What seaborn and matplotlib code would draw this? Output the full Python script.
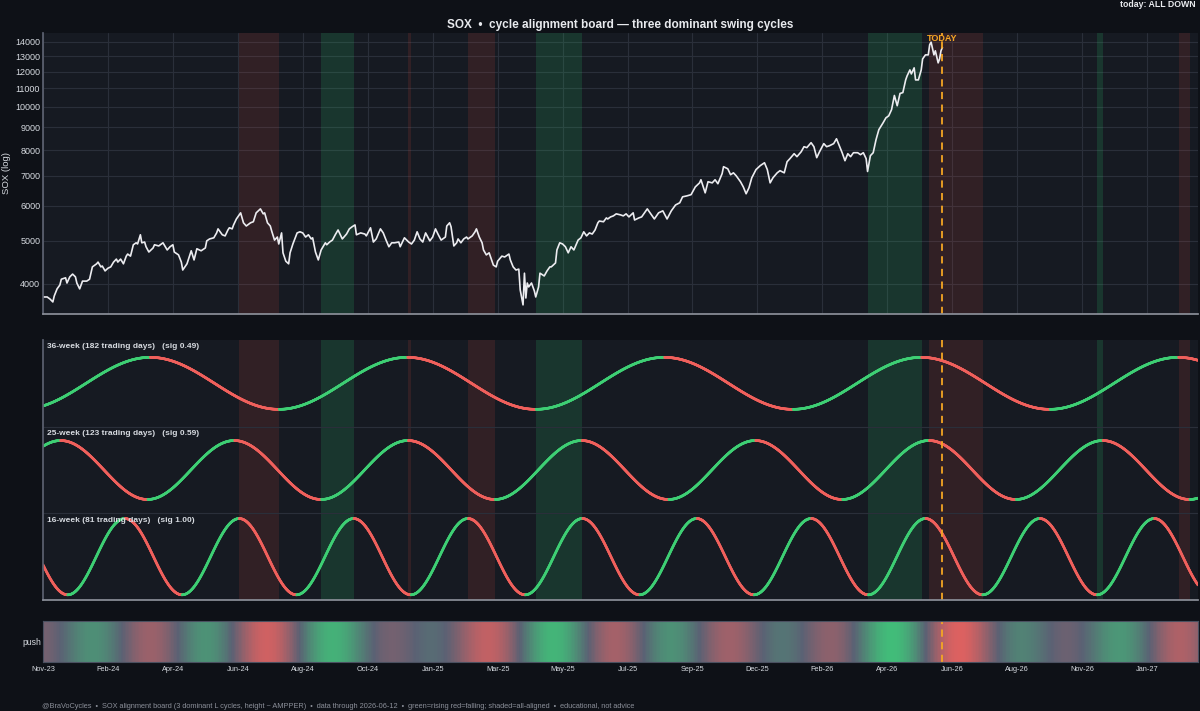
import numpy as np
import matplotlib
matplotlib.use('Agg')
import matplotlib.pyplot as plt
import seaborn as sns
from matplotlib.collections import LineCollection
from matplotlib.colors import LinearSegmentedColormap
from matplotlib.ticker import FixedLocator, NullFormatter

# x axis = trading-day index; today is day 637, projection runs to 818
n_days = 818
today = 637
tick_step = 46
tick_labels = ['Nov-23', 'Feb-24', 'Apr-24', 'Jun-24', 'Aug-24', 'Oct-24', 'Jan-25', 'Mar-25', 'May-25',
               'Jul-25', 'Sep-25', 'Dec-25', 'Feb-26', 'Apr-26', 'Jun-26', 'Aug-26', 'Nov-26', 'Jan-27']

# SOX close
day = [0, 3, 5, 7, 8, 10, 12, 13, 16, 17, 19, 21, 23, 24, 26, 28, 31, 33, 35, 38, 39, 41, 42, 44, 46,
       48, 50, 52, 53, 55, 57, 59, 60, 62, 64, 66, 67, 69, 70, 72, 73, 75, 78, 79, 82, 85, 88, 90, 92, 93,
       96, 98, 99, 102, 105, 107, 109, 112, 115, 116, 118, 121, 123, 124, 127, 129, 131, 132, 134, 135,
       137, 140, 142, 144, 147, 149, 151, 154, 156, 157, 159, 161, 162, 164, 166, 167, 169, 170, 172, 174,
       175, 177, 180, 182, 184, 186, 188, 190, 191, 193, 195, 197, 200, 201, 203, 205, 207, 209, 212, 215,
       217, 219, 221, 222, 225, 228, 229, 232, 234, 236, 239, 241, 243, 245, 247, 249, 252, 253, 256, 259,
       261, 263, 265, 267, 269, 271, 274, 276, 278, 280, 282, 285, 286, 288, 289, 291, 293, 294, 296, 298,
       300, 301, 304, 306, 307, 309, 311, 312, 314, 316, 318, 319, 321, 322, 325, 327, 330, 331, 333, 335,
       337, 338, 340, 341, 342, 343, 344, 346, 348, 349, 351, 352, 355, 357, 359, 360, 363, 364, 366, 368,
       370, 372, 374, 376, 377, 379, 381, 383, 385, 387, 389, 391, 393, 394, 397, 399, 400, 402, 404, 406,
       409, 411, 413, 415, 418, 419, 422, 424, 428, 430, 433, 436, 439, 442, 445, 448, 451, 453, 456, 459,
       462, 465, 466, 469, 471, 474, 476, 478, 481, 482, 485, 487, 489, 491, 494, 496, 498, 500, 502, 505,
       508, 511, 513, 515, 517, 520, 522, 525, 527, 529, 532, 534, 537, 539, 541, 544, 546, 548, 550, 553,
       555, 557, 560, 562, 564, 566, 568, 570, 572, 574, 577, 579, 581, 583, 584, 586, 588, 590, 592, 595,
       597, 599, 601, 603, 605, 607, 609, 611, 612, 614, 615, 617, 618, 620, 622, 623, 625, 627, 628, 629,
       631, 632, 634, 635, 636, 637]
sox = [3740, 3740, 3700, 3645, 3760, 3900, 3980, 4100, 4130, 4020, 4150, 4210, 4150, 4020, 3900, 4060,
       4060, 4100, 4370, 4440, 4480, 4370, 4390, 4280, 4340, 4370, 4480, 4550, 4480, 4550, 4440, 4620,
       4670, 4620, 4900, 4950, 4920, 5160, 4950, 4970, 4850, 4720, 4820, 4900, 4870, 4950, 4770, 4850,
       4900, 4720, 4650, 4480, 4300, 4440, 4750, 4530, 4800, 4750, 4820, 5000, 5050, 5080, 5210, 5320,
       5160, 5130, 5290, 5350, 5320, 5430, 5600, 5780, 5490, 5400, 5490, 5520, 5780, 5900, 5750, 5780,
       5490, 5400, 5260, 5020, 5100, 4920, 5210, 4700, 4500, 4440, 4700, 4920, 5210, 5240, 5210, 5100,
       5160, 5050, 5080, 4720, 4530, 4770, 4950, 4900, 4970, 5020, 5160, 5290, 5050, 5180, 5320, 5380,
       5430, 5160, 5210, 5180, 5130, 5350, 4970, 5050, 5320, 5210, 5020, 4850, 4950, 4950, 4970, 4850,
       5080, 4970, 4920, 5020, 5240, 5050, 4970, 5210, 5000, 5100, 5320, 5160, 5020, 5100, 5400, 5490,
       5380, 4870, 4950, 5050, 4950, 5050, 5100, 5050, 5130, 5240, 5320, 5100, 4950, 4770, 4650, 4700,
       4500, 4410, 4370, 4500, 4620, 4600, 4670, 4530, 4370, 4300, 4320, 3880, 3590, 4230, 3720, 4020,
       3940, 4020, 3860, 3740, 3940, 4230, 4170, 4280, 4370, 4370, 4460, 4770, 4950, 4920, 4850, 4700,
       4850, 4770, 4850, 5020, 5080, 5240, 5130, 5210, 5180, 5290, 5490, 5540, 5520, 5630, 5600, 5660,
       5690, 5750, 5720, 5690, 5750, 5660, 5780, 5570, 5630, 5660, 5900, 5780, 5600, 5780, 5840, 5600,
       5840, 6020, 6090, 6280, 6310, 6350, 6610, 6750, 6860, 6410, 6790, 6750, 6860, 6720, 7080, 7340,
       7260, 7040, 7110, 7000, 6790, 6610, 6380, 6580, 6930, 7230, 7380, 7490, 7230, 6750, 6930, 7110,
       7190, 7110, 7530, 7650, 7850, 7730, 7930, 8140, 8100, 8310, 8140, 7690, 7930, 8270, 8140, 8180,
       8270, 8480, 8180, 7890, 7570, 7850, 7730, 7890, 7890, 7810, 7890, 7650, 7160, 7770, 7890, 8440,
       8890, 9210, 9450, 9550, 9860, 10610, 10060, 10720, 10770, 11500, 11740, 12110, 11860, 12240, 11500,
       11500, 12110, 12820, 13090, 13090, 13800, 13980, 13090, 13370, 12560, 12820, 13370, 13600]

# the three dominant cycles
cycle_name = ['36-week', '25-week', '16-week']
cycle_len = [182, 123, 81]
cycle_sig = [0.49, 0.59, 1.00]
cycle_peak = [76, 12.5, 139]
cycle_amp = [0.30, 0.34, 0.44]

bg = '#0e1117'
panel = '#161a22'
txt = '#d6dae0'
grey = '#8b8f99'
up_col = '#3ecf74'
dn_col = '#f0605c'
today_col = '#f5a623'

sns.set_theme(style='dark', rc={'axes.facecolor': panel, 'figure.facecolor': bg,
                                'axes.edgecolor': '#5c6170', 'text.color': txt,
                                'xtick.color': grey, 'ytick.color': grey})
plt.rcParams['font.family'] = ['Liberation Sans', 'DejaVu Sans']

t = np.arange(0, n_days + 0.25, 0.25)
phase = [2 * np.pi * (t - p) / L for p, L in zip(cycle_peak, cycle_len)]
rising = [np.sin(ph) < 0 for ph in phase]
all_up = rising[0] & rising[1] & rising[2]
all_dn = ~rising[0] & ~rising[1] & ~rising[2]


def runs(mask):
    out = []
    start = None
    for i, m in enumerate(mask):
        if m and start is None:
            start = t[i]
        if not m and start is not None:
            out.append((start, t[i]))
            start = None
    if start is not None:
        out.append((start, t[-1]))
    return out


def shade(ax):
    for a, b in runs(all_up):
        ax.axvspan(a, b, color='#2ecc71', alpha=0.16, lw=0)
    for a, b in runs(all_dn):
        ax.axvspan(a, b, color='#e74c3c', alpha=0.13, lw=0)


fig = plt.figure(figsize=(12, 7.11), dpi=100)
ax1 = fig.add_axes([0.0358, 0.5584, 0.9625, 0.3952])
ax2 = fig.add_axes([0.0358, 0.1561, 0.9625, 0.3657])
ax3 = fig.add_axes([0.0358, 0.0689, 0.9625, 0.0577])

xticks = list(range(0, n_days, tick_step))

# --- price panel
shade(ax1)
sns.lineplot(x=day, y=sox, ax=ax1, color='#ececf0', lw=1.2)
ax1.set_yscale('log')
ax1.set_xlim(0, n_days)
ax1.set_ylim(3425, 14660)
major = list(range(4000, 15000, 1000))
ax1.set_yticks(major, labels=[str(v) for v in major])
ax1.yaxis.set_minor_locator(FixedLocator(range(3600, 14800, 200)))
ax1.yaxis.set_minor_formatter(NullFormatter())
ax1.set_xticks(xticks)
ax1.tick_params(axis='x', direction='in', length=11, width=1, color=grey, labelbottom=False)
ax1.tick_params(axis='y', which='major', direction='in', length=7, width=0.8, color=grey,
                labelsize=6.5, labelcolor=txt, pad=2)
ax1.tick_params(axis='y', which='minor', direction='in', length=4, width=0.6, color=grey)
ax1.grid(True, which='major', color='#2a2f3a', lw=0.8)
ax1.set_ylabel('SOX (log)', fontsize=6.8, color=txt, labelpad=3)
ax1.set_xlabel('')
for s in ['top', 'right']:
    ax1.spines[s].set_visible(False)
ax1.spines['bottom'].set_color('#8b8f99')
ax1.spines['left'].set_color('#5c6170')
ax1.axvline(today, color=today_col, ls=(0, (4, 3)), lw=1.3)
ax1.text(today, 0.998, 'TODAY', transform=ax1.get_xaxis_transform(), ha='center', va='top',
         color=today_col, fontsize=6.5, fontweight='bold')

# --- cycle panel
shade(ax2)
for k in range(3):
    center = 2.5 - k
    y = center + cycle_amp[k] * np.cos(phase[k])
    pts = np.column_stack([t, y]).reshape(-1, 1, 2)
    segs = np.concatenate([pts[:-1], pts[1:]], axis=1)
    cols = [up_col if r else dn_col for r in rising[k][:-1]]
    ax2.add_collection(LineCollection(segs, colors=cols, lw=1.9, capstyle='round'))
    ax2.text(3, 3 - k - 0.04, f'{cycle_name[k]} ({cycle_len[k]} trading days)   (sig {cycle_sig[k]:.2f})',
             ha='left', va='top', fontsize=6.0, fontweight='bold', color=txt)
for yy in [1, 2]:
    ax2.axhline(yy, color='#2a2f3a', lw=0.8)
ax2.set_xlim(0, n_days)
ax2.set_ylim(0, 3)
ax2.set_yticks([])
ax2.set_xticks(xticks)
ax2.tick_params(axis='x', direction='in', length=11, width=1, color=grey, labelbottom=False)
for s in ['top', 'right']:
    ax2.spines[s].set_visible(False)
ax2.spines['bottom'].set_color('#8b8f99')
ax2.spines['left'].set_color('#5c6170')
ax2.axvline(today, color=today_col, ls=(0, (4, 3)), lw=1.3)

# --- push strip
tc = np.arange(n_days) + 0.5
push = sum(s * -np.sin(2 * np.pi * (tc - p) / L)
           for s, p, L in zip(cycle_sig, cycle_peak, cycle_len)) / sum(cycle_sig)
cmap = LinearSegmentedColormap.from_list('push', ['#ea615f', '#5b6274', '#3fc77a'])
ax3.imshow(push[None, :], extent=(0, n_days, 0, 1), aspect='auto', cmap=cmap,
           vmin=-1, vmax=1, interpolation='nearest')
ax3.axvline(today, color=today_col, ls=(0, (4, 3)), lw=1.3)
ax3.set_xlim(0, n_days)
ax3.set_ylim(0, 1)
ax3.set_yticks([0.5], labels=['push'])
ax3.set_xticks(xticks, labels=tick_labels)
ax3.tick_params(axis='x', length=0, labelsize=5.3, labelcolor=txt, pad=3)
ax3.tick_params(axis='y', length=0, labelsize=6.2, labelcolor=txt, pad=1)
for s in ax3.spines.values():
    s.set_color('#4a5060')
    s.set_linewidth(0.8)

fig.text(0.517, 0.965, 'SOX  •  cycle alignment board — three dominant swing cycles',
         ha='center', va='center', fontsize=8.5, fontweight='bold', color='#e8eaee')
fig.text(0.996, 0.993, 'today: ALL DOWN', ha='right', va='center', fontsize=6.3,
         fontweight='bold', color='#e8eaee')
fig.text(0.035, 0.007, '@BraVoCycles  •  SOX alignment board (3 dominant L cycles, height ~ AMPPER)  •  '
         'data through 2026-06-12  •  green=rising red=falling; shaded=all-aligned  •  educational, not advice',
         ha='left', va='center', fontsize=5.3, color=grey)

fig.savefig('out.png', dpi=100, facecolor=bg)
